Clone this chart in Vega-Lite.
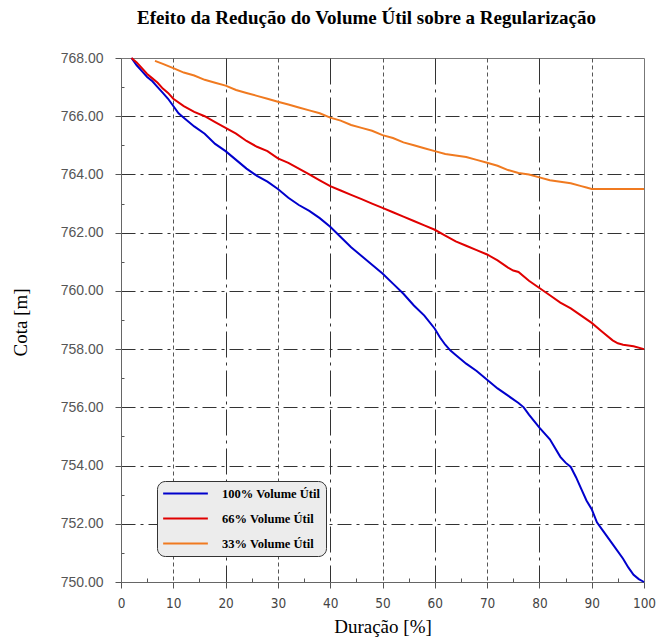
{
  "$schema": "https://vega.github.io/schema/vega-lite/v6.json",
  "autosize": "none",
  "width": 523,
  "height": 524,
  "padding": {"left": 121, "top": 58, "right": 27, "bottom": 55},
  "background": "white",
  "title": {
    "text": "Efeito da Redução do Volume Útil sobre a Regularização",
    "font": "Liberation Serif",
    "fontSize": 19,
    "fontWeight": "bold",
    "color": "black",
    "anchor": "middle",
    "dx": -16,
    "offset": 23
  },
  "config": {
    "view": {"stroke": "#777", "strokeWidth": 1}
  },
  "data": {
    "values": [
      {"s": "100% Volume Útil", "d": 2, "c": 768},
      {"s": "100% Volume Útil", "d": 3, "c": 767.75},
      {"s": "100% Volume Útil", "d": 4, "c": 767.55},
      {"s": "100% Volume Útil", "d": 5, "c": 767.35},
      {"s": "100% Volume Útil", "d": 6, "c": 767.2},
      {"s": "100% Volume Útil", "d": 7, "c": 767.0},
      {"s": "100% Volume Útil", "d": 8, "c": 766.8},
      {"s": "100% Volume Útil", "d": 9, "c": 766.6},
      {"s": "100% Volume Útil", "d": 10, "c": 766.35},
      {"s": "100% Volume Útil", "d": 11, "c": 766.1},
      {"s": "100% Volume Útil", "d": 12, "c": 765.95},
      {"s": "100% Volume Útil", "d": 14, "c": 765.65},
      {"s": "100% Volume Útil", "d": 16, "c": 765.4},
      {"s": "100% Volume Útil", "d": 18, "c": 765.05},
      {"s": "100% Volume Útil", "d": 20, "c": 764.8},
      {"s": "100% Volume Útil", "d": 22, "c": 764.5},
      {"s": "100% Volume Útil", "d": 24, "c": 764.2},
      {"s": "100% Volume Útil", "d": 26, "c": 763.95},
      {"s": "100% Volume Útil", "d": 28, "c": 763.75},
      {"s": "100% Volume Útil", "d": 30, "c": 763.5},
      {"s": "100% Volume Útil", "d": 32, "c": 763.2},
      {"s": "100% Volume Útil", "d": 34, "c": 762.95},
      {"s": "100% Volume Útil", "d": 36, "c": 762.75},
      {"s": "100% Volume Útil", "d": 38, "c": 762.5},
      {"s": "100% Volume Útil", "d": 40, "c": 762.2},
      {"s": "100% Volume Útil", "d": 42, "c": 761.85},
      {"s": "100% Volume Útil", "d": 44, "c": 761.5},
      {"s": "100% Volume Útil", "d": 46, "c": 761.2},
      {"s": "100% Volume Útil", "d": 48, "c": 760.9},
      {"s": "100% Volume Útil", "d": 50, "c": 760.6},
      {"s": "100% Volume Útil", "d": 52, "c": 760.25},
      {"s": "100% Volume Útil", "d": 54, "c": 759.9},
      {"s": "100% Volume Útil", "d": 56, "c": 759.5},
      {"s": "100% Volume Útil", "d": 58, "c": 759.15},
      {"s": "100% Volume Útil", "d": 60, "c": 758.7},
      {"s": "100% Volume Útil", "d": 61, "c": 758.4},
      {"s": "100% Volume Útil", "d": 62, "c": 758.15},
      {"s": "100% Volume Útil", "d": 63, "c": 757.95},
      {"s": "100% Volume Útil", "d": 64, "c": 757.8},
      {"s": "100% Volume Útil", "d": 66, "c": 757.5},
      {"s": "100% Volume Útil", "d": 68, "c": 757.25},
      {"s": "100% Volume Útil", "d": 70, "c": 756.95},
      {"s": "100% Volume Útil", "d": 72, "c": 756.65},
      {"s": "100% Volume Útil", "d": 74, "c": 756.4},
      {"s": "100% Volume Útil", "d": 76, "c": 756.15},
      {"s": "100% Volume Útil", "d": 77, "c": 756.0},
      {"s": "100% Volume Útil", "d": 78, "c": 755.75},
      {"s": "100% Volume Útil", "d": 80, "c": 755.3},
      {"s": "100% Volume Útil", "d": 82, "c": 754.9},
      {"s": "100% Volume Útil", "d": 84, "c": 754.3},
      {"s": "100% Volume Útil", "d": 85, "c": 754.1},
      {"s": "100% Volume Útil", "d": 86, "c": 753.95},
      {"s": "100% Volume Útil", "d": 87, "c": 753.6},
      {"s": "100% Volume Útil", "d": 88, "c": 753.2},
      {"s": "100% Volume Útil", "d": 89, "c": 752.8},
      {"s": "100% Volume Útil", "d": 90, "c": 752.5},
      {"s": "100% Volume Útil", "d": 91, "c": 752.05},
      {"s": "100% Volume Útil", "d": 92, "c": 751.8},
      {"s": "100% Volume Útil", "d": 94, "c": 751.3},
      {"s": "100% Volume Útil", "d": 96, "c": 750.8},
      {"s": "100% Volume Útil", "d": 97, "c": 750.5},
      {"s": "100% Volume Útil", "d": 98, "c": 750.25},
      {"s": "100% Volume Útil", "d": 99, "c": 750.1},
      {"s": "100% Volume Útil", "d": 100, "c": 750.0},
      {"s": "66% Volume Útil", "d": 2, "c": 768},
      {"s": "66% Volume Útil", "d": 3, "c": 767.85},
      {"s": "66% Volume Útil", "d": 4, "c": 767.65},
      {"s": "66% Volume Útil", "d": 5, "c": 767.45},
      {"s": "66% Volume Útil", "d": 6, "c": 767.3},
      {"s": "66% Volume Útil", "d": 7, "c": 767.15},
      {"s": "66% Volume Útil", "d": 8, "c": 766.95},
      {"s": "66% Volume Útil", "d": 9, "c": 766.8},
      {"s": "66% Volume Útil", "d": 10, "c": 766.6},
      {"s": "66% Volume Útil", "d": 12, "c": 766.35},
      {"s": "66% Volume Útil", "d": 14, "c": 766.15},
      {"s": "66% Volume Útil", "d": 16, "c": 766.0},
      {"s": "66% Volume Útil", "d": 18, "c": 765.8},
      {"s": "66% Volume Útil", "d": 20, "c": 765.6},
      {"s": "66% Volume Útil", "d": 22, "c": 765.4},
      {"s": "66% Volume Útil", "d": 24, "c": 765.15},
      {"s": "66% Volume Útil", "d": 26, "c": 764.95},
      {"s": "66% Volume Útil", "d": 28, "c": 764.8},
      {"s": "66% Volume Útil", "d": 30, "c": 764.55},
      {"s": "66% Volume Útil", "d": 32, "c": 764.4},
      {"s": "66% Volume Útil", "d": 34, "c": 764.2},
      {"s": "66% Volume Útil", "d": 36, "c": 764.0},
      {"s": "66% Volume Útil", "d": 38, "c": 763.8},
      {"s": "66% Volume Útil", "d": 40, "c": 763.6},
      {"s": "66% Volume Útil", "d": 42, "c": 763.45},
      {"s": "66% Volume Útil", "d": 44, "c": 763.3},
      {"s": "66% Volume Útil", "d": 46, "c": 763.15},
      {"s": "66% Volume Útil", "d": 48, "c": 763.0},
      {"s": "66% Volume Útil", "d": 50, "c": 762.85},
      {"s": "66% Volume Útil", "d": 52, "c": 762.7},
      {"s": "66% Volume Útil", "d": 54, "c": 762.55},
      {"s": "66% Volume Útil", "d": 56, "c": 762.4},
      {"s": "66% Volume Útil", "d": 58, "c": 762.25},
      {"s": "66% Volume Útil", "d": 60, "c": 762.1},
      {"s": "66% Volume Útil", "d": 62, "c": 761.9},
      {"s": "66% Volume Útil", "d": 64, "c": 761.7},
      {"s": "66% Volume Útil", "d": 66, "c": 761.55},
      {"s": "66% Volume Útil", "d": 68, "c": 761.4},
      {"s": "66% Volume Útil", "d": 70, "c": 761.25},
      {"s": "66% Volume Útil", "d": 72, "c": 761.05},
      {"s": "66% Volume Útil", "d": 74, "c": 760.8},
      {"s": "66% Volume Útil", "d": 75, "c": 760.7},
      {"s": "66% Volume Útil", "d": 76, "c": 760.65},
      {"s": "66% Volume Útil", "d": 78, "c": 760.35},
      {"s": "66% Volume Útil", "d": 80, "c": 760.1},
      {"s": "66% Volume Útil", "d": 82, "c": 759.85},
      {"s": "66% Volume Útil", "d": 84, "c": 759.6},
      {"s": "66% Volume Útil", "d": 86, "c": 759.4},
      {"s": "66% Volume Útil", "d": 88, "c": 759.15},
      {"s": "66% Volume Útil", "d": 90, "c": 758.9},
      {"s": "66% Volume Útil", "d": 92, "c": 758.6},
      {"s": "66% Volume Útil", "d": 94, "c": 758.3},
      {"s": "66% Volume Útil", "d": 95, "c": 758.2},
      {"s": "66% Volume Útil", "d": 96, "c": 758.15},
      {"s": "66% Volume Útil", "d": 98, "c": 758.1},
      {"s": "66% Volume Útil", "d": 100, "c": 758.0},
      {"s": "33% Volume Útil", "d": 6.5, "c": 767.9},
      {"s": "33% Volume Útil", "d": 8, "c": 767.8},
      {"s": "33% Volume Útil", "d": 10, "c": 767.65},
      {"s": "33% Volume Útil", "d": 12, "c": 767.5},
      {"s": "33% Volume Útil", "d": 14, "c": 767.4},
      {"s": "33% Volume Útil", "d": 16, "c": 767.25},
      {"s": "33% Volume Útil", "d": 18, "c": 767.15},
      {"s": "33% Volume Útil", "d": 20, "c": 767.05},
      {"s": "33% Volume Útil", "d": 22, "c": 766.9},
      {"s": "33% Volume Útil", "d": 24, "c": 766.8},
      {"s": "33% Volume Útil", "d": 26, "c": 766.7},
      {"s": "33% Volume Útil", "d": 28, "c": 766.6},
      {"s": "33% Volume Útil", "d": 30, "c": 766.5},
      {"s": "33% Volume Útil", "d": 32, "c": 766.4},
      {"s": "33% Volume Útil", "d": 34, "c": 766.3},
      {"s": "33% Volume Útil", "d": 36, "c": 766.2},
      {"s": "33% Volume Útil", "d": 38, "c": 766.1},
      {"s": "33% Volume Útil", "d": 40, "c": 765.95},
      {"s": "33% Volume Útil", "d": 42, "c": 765.85},
      {"s": "33% Volume Útil", "d": 44, "c": 765.7},
      {"s": "33% Volume Útil", "d": 46, "c": 765.6},
      {"s": "33% Volume Útil", "d": 48, "c": 765.5},
      {"s": "33% Volume Útil", "d": 50, "c": 765.35},
      {"s": "33% Volume Útil", "d": 52, "c": 765.25},
      {"s": "33% Volume Útil", "d": 54, "c": 765.1},
      {"s": "33% Volume Útil", "d": 56, "c": 765.0},
      {"s": "33% Volume Útil", "d": 58, "c": 764.9},
      {"s": "33% Volume Útil", "d": 60, "c": 764.8},
      {"s": "33% Volume Útil", "d": 62, "c": 764.7},
      {"s": "33% Volume Útil", "d": 64, "c": 764.65},
      {"s": "33% Volume Útil", "d": 66, "c": 764.6},
      {"s": "33% Volume Útil", "d": 68, "c": 764.5},
      {"s": "33% Volume Útil", "d": 70, "c": 764.4},
      {"s": "33% Volume Útil", "d": 72, "c": 764.3},
      {"s": "33% Volume Útil", "d": 74, "c": 764.15},
      {"s": "33% Volume Útil", "d": 76, "c": 764.05},
      {"s": "33% Volume Útil", "d": 78, "c": 764.0},
      {"s": "33% Volume Útil", "d": 80, "c": 763.9},
      {"s": "33% Volume Útil", "d": 82, "c": 763.8},
      {"s": "33% Volume Útil", "d": 84, "c": 763.75},
      {"s": "33% Volume Útil", "d": 86, "c": 763.7},
      {"s": "33% Volume Útil", "d": 88, "c": 763.6},
      {"s": "33% Volume Útil", "d": 89, "c": 763.55},
      {"s": "33% Volume Útil", "d": 90, "c": 763.5},
      {"s": "33% Volume Útil", "d": 95, "c": 763.5},
      {"s": "33% Volume Útil", "d": 100, "c": 763.5}
    ]
  },
  "mark": {"type": "line", "strokeWidth": 2, "interpolate": "linear"},
  "encoding": {
    "x": {
      "field": "d",
      "type": "quantitative",
      "scale": {"domain": [0, 100], "nice": false, "zero": false},
      "axis": {
        "title": "Duração [%]",
        "titleFont": "Liberation Serif",
        "titleFontSize": 19,
        "titleFontWeight": "normal",
        "titleColor": "black",
        "titleBaseline": "alphabetic",
        "titleY": 50,
        "values": [0,5,10,15,20,25,30,35,40,45,50,55,60,65,70,75,80,85,90,95,100],
        "labelExpr": "datum.value % 10 === 0 ? datum.label : ''",
        "labelFont": "DejaVu Sans Condensed, Liberation Sans Narrow, sans-serif",
        "labelFontSize": 13.5,
        "labelColor": "#444",
        "labelPadding": 8,
        "labelFlush": false,
        "labelOverlap": false,
        "domainColor": "#666",
        "tickColor": "#555",
        "tickSize": {"condition": {"test": "datum.value % 10 === 0", "value": 6}, "value": -4},
        "grid": true,
        "gridColor": {"condition": {"test": "datum.value % 20 === 0", "value": "#333"}, "value": "#555"},
        "gridDash": {"condition": {"test": "datum.value % 20 === 0", "value": [26, 5, 3, 5]}, "value": [4, 3]},
        "gridOpacity": {"condition": {"test": "datum.value % 10 === 0 && datum.value > 0 && datum.value < 100", "value": 1}, "value": 0},
        "gridWidth": 1
      }
    },
    "y": {
      "field": "c",
      "type": "quantitative",
      "scale": {"domain": [750, 768], "nice": false, "zero": false},
      "axis": {
        "title": "Cota [m]",
        "titleFont": "Liberation Serif",
        "titleFontSize": 19,
        "titleFontWeight": "normal",
        "titleColor": "black",
        "titleX": -91,
        "titleY": 264,
        "values": [750,751,752,753,754,755,756,757,758,759,760,761,762,763,764,765,766,767,768],
        "labelExpr": "datum.value % 2 === 0 ? format(datum.value, '.2f') : ''",
        "labelFont": "Liberation Sans",
        "labelFontSize": 14,
        "labelColor": "#555",
        "labelPadding": 12,
        "labelOverlap": false,
        "domainColor": "#666",
        "tickColor": "#555",
        "tickSize": {"condition": {"test": "datum.value % 2 === 0", "value": 6}, "value": -3},
        "grid": true,
        "gridColor": "#333",
        "gridDash": [14, 5, 3, 5],
        "gridOpacity": {"condition": {"test": "datum.value % 2 === 0 && datum.value > 750 && datum.value < 768", "value": 1}, "value": 0},
        "gridWidth": 1
      }
    },
    "color": {
      "field": "s",
      "type": "nominal",
      "scale": {
        "domain": ["100% Volume Útil", "66% Volume Útil", "33% Volume Útil"],
        "range": ["#0000cc", "#e00000", "#f07a20"]
      },
      "legend": {
        "title": null,
        "orient": "none",
        "legendX": 36,
        "legendY": 423,
        "symbolType": "stroke",
        "symbolSize": 2000,
        "symbolStrokeWidth": 2,
        "labelFont": "Liberation Serif",
        "labelFontSize": 12.5,
        "labelFontWeight": "bold",
        "labelColor": "black",
        "labelOffset": 13,
        "clipHeight": 15,
        "rowPadding": 10,
        "fillColor": "#ececec",
        "strokeColor": "#333",
        "cornerRadius": 8,
        "padding": 5
      }
    }
  }
}
